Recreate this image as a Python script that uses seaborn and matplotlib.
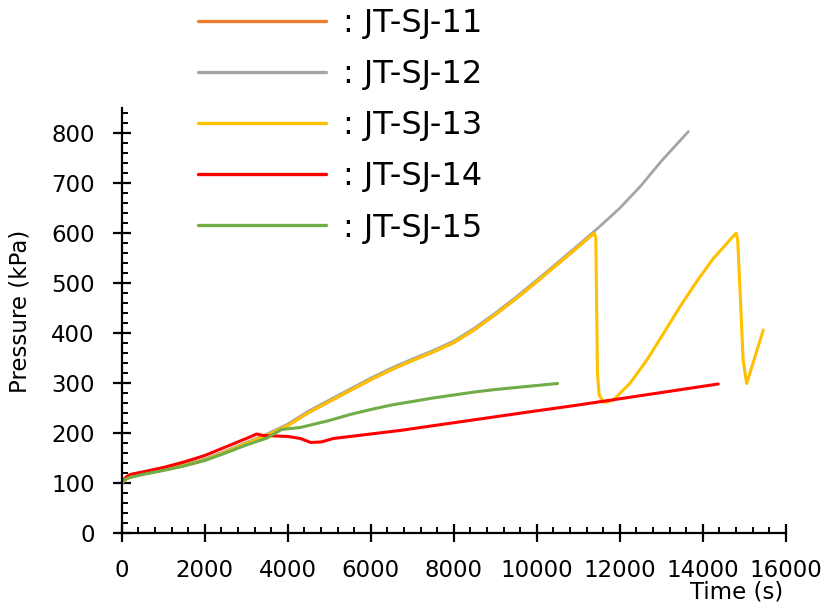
import numpy as np
import pandas as pd
import matplotlib
matplotlib.use("Agg")
import matplotlib.pyplot as plt
import seaborn as sns
from matplotlib.ticker import MultipleLocator

# Pressure histories of the five specimens (time in s, pressure in kPa)
t11 = [0, 100, 200, 500, 1000, 1500, 2000, 2500, 3000, 3500, 4000, 4500, 5000, 5500, 6000, 6500,
       7000, 7500, 8000, 8500, 9000, 9500, 10000, 10500, 11000, 11380]
p11 = [100, 108, 112, 118, 126, 135, 146, 162, 179, 196, 215, 241, 263, 285, 307, 327,
       345, 362, 381, 407, 437, 469, 503, 538, 573, 600]

t12 = [0, 100, 200, 500, 1000, 1500, 2000, 2500, 3000, 3500, 4000, 4500, 5000, 5500, 6000, 6500,
       7000, 7500, 8000, 8500, 9000, 9500, 10000, 10500, 11000, 11500, 12000, 12500, 13000, 13650]
p12 = [100, 110, 114, 120, 128, 137, 148, 164, 181, 198, 218, 244, 266, 288, 310, 330,
       348, 365, 384, 410, 440, 472, 506, 541, 576, 612, 650, 694, 744, 803]

t13 = [0, 100, 200, 500, 1000, 1500, 2000, 2500, 3000, 3500, 4000, 4500, 5000, 5500, 6000, 6500,
       7000, 7500, 8000, 8500, 9000, 9500, 10000, 10500, 11000, 11380, 11420, 11440, 11460, 11500,
       11600, 11700, 11840, 12240, 12650, 13050, 13450, 13850, 14250, 14800, 14840, 14970, 15055,
       15455]
p13 = [100, 108, 112, 118, 126, 135, 146, 162, 179, 196, 215, 241, 263, 285, 307, 327,
       345, 362, 381, 407, 437, 469, 503, 538, 573, 600, 592, 450, 320, 276,
       262, 262, 266, 299, 346, 399, 453, 503, 549, 600, 585, 346, 299,
       406]

t14 = [0, 100, 200, 500, 1000, 1500, 2000, 2500, 3000, 3250, 3400, 3700, 4000, 4300, 4550, 4800,
       5100, 5900, 6700, 9800, 11000, 14370]
p14 = [100, 112, 117, 122, 131, 142, 155, 172, 189, 198, 195, 194, 193, 189, 181, 182,
       189, 197, 205, 242, 256, 298]

t15 = [0, 100, 200, 500, 1000, 1500, 2000, 2500, 3000, 3500, 3700, 3850, 4300, 5000, 5500, 6000,
       6500, 7000, 7500, 8000, 8500, 9000, 9500, 10000, 10500]
p15 = [100, 108, 111, 117, 125, 134, 145, 160, 176, 190, 200, 207, 211, 225, 237, 247,
       256, 263, 270, 276, 282, 287, 291, 295, 299]

names = ["JT-SJ-11", "JT-SJ-12", "JT-SJ-13", "JT-SJ-14", "JT-SJ-15"]
colors = ["#ED7D31", "#A5A5A5", "#FFC000", "#FF0000", "#70AD47"]
widths = [2.2, 2.0, 2.2, 2.2, 2.2]
series = [(t11, p11), (t12, p12), (t13, p13), (t14, p14), (t15, p15)]

sns.set_style("ticks")
plt.rcParams["font.family"] = ["DejaVu Sans"]
plt.rcParams["text.color"] = "black"
plt.rcParams["axes.labelcolor"] = "black"

fig = plt.figure(figsize=(8.29, 6.14), dpi=100)
ax = fig.add_axes([0.147, 0.132, 0.801, 0.692])

for name, (t, p), c, lw in zip(names, series, colors, widths):
    df = pd.DataFrame({"Time (s)": t, "Pressure (kPa)": p})
    sns.lineplot(data=df, x="Time (s)", y="Pressure (kPa)", ax=ax, color=c,
                 linewidth=lw, sort=False, estimator=None, label=": " + name)

ax.set_xlim(0, 16000)
ax.set_ylim(0, 850)
ax.xaxis.set_major_locator(MultipleLocator(2000))
ax.xaxis.set_minor_locator(MultipleLocator(400))
ax.yaxis.set_major_locator(MultipleLocator(100))
ax.yaxis.set_minor_locator(MultipleLocator(20))
ax.set_yticks(np.arange(0, 801, 100))

for side in ["top", "right"]:
    ax.spines[side].set_visible(False)
for side in ["left", "bottom"]:
    ax.spines[side].set_color("black")
    ax.spines[side].set_linewidth(1.6)

ax.tick_params(which="major", direction="inout", length=13, width=1.6,
               labelsize=16.5, colors="black")
ax.tick_params(axis="y", which="major", pad=13)
ax.tick_params(axis="x", which="major", pad=12)
ax.tick_params(which="minor", direction="in", length=4.5, width=1.4, colors="black")

ax.set_xlabel("Time (s)", fontsize=16.5, loc="right")
ax.set_ylabel("Pressure (kPa)", fontsize=16.5)
ax.xaxis.set_label_coords(0.9955, -0.112)
ax.yaxis.set_label_coords(-0.136, 0.522)

handles, labels = ax.get_legend_handles_labels()
ax.get_legend().remove()
leg = fig.legend(handles, labels, loc="upper left",
                 bbox_to_anchor=(198 / 829, 1 - 8 / 614),
                 frameon=False, fontsize=23, handlelength=4.0,
                 handletextpad=0.55, labelspacing=0.63, borderpad=0, borderaxespad=0)
for line in leg.get_lines():
    line.set_linewidth(2.4)

fig.savefig("out.png", dpi=100, facecolor="white")
